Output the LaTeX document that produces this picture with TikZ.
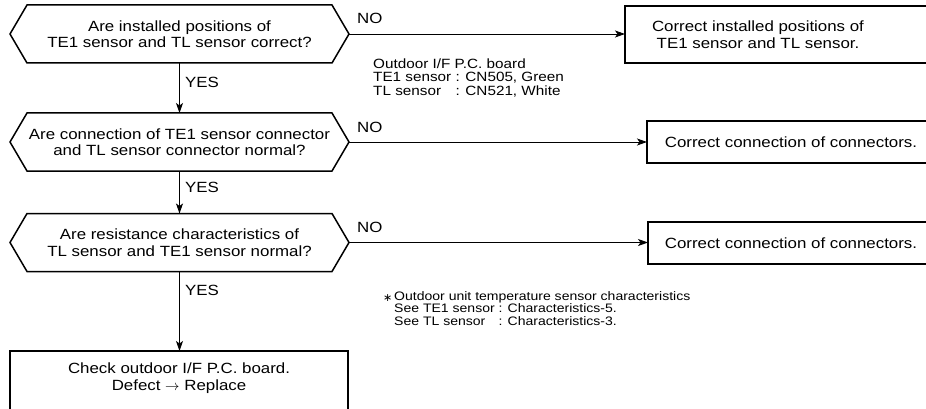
\documentclass[tikz,border=0pt]{standalone}
\usepackage{fontspec}
\setmainfont{Liberation Sans}[FakeStretch=1.14]
\newfontfamily\symf{DejaVu Sans}
\usetikzlibrary{arrows.meta}
\newcommand\hexdraw[1]{\draw[hexline] (#1.west) -- ([xshift=17pt]#1.north west) -- ([xshift=-17pt]#1.north east) -- (#1.east) -- ([xshift=-17pt]#1.south east) -- ([xshift=17pt]#1.south west) -- cycle;}
\begin{document}
\begin{tikzpicture}[x=1pt,y=-1pt,
  mainfont/.style={font=\fontsize{14.8}{16.5}\selectfont},
  hexbox/.style={minimum width=339pt,minimum height=58pt,inner sep=0pt,outer sep=0pt},
  hexline/.style={line width=1.5pt,line join=miter},
  rbox/.style={draw,line width=1.5pt,inner sep=0pt,outer sep=0pt,anchor=north west},
  txt/.style={mainfont,align=center,inner sep=0pt},
  conn/.style={line width=0.9pt,-{Stealth[length=10pt,width=7pt,inset=2.5pt]}},
  lbl/.style={mainfont,inner sep=0pt,anchor=west},
  note/.style={inner sep=0pt,anchor=north west},
]
\useasboundingbox (0,0) rectangle (926,409);
\clip (0,0) rectangle (926,409);

% decision hexagons
\node[hexbox] (h1) at (179.5,34) {};
\node[hexbox] (h2) at (179.5,142) {};
\node[hexbox] (h3) at (179.5,242.5) {};
\hexdraw{h1}
\hexdraw{h2}
\hexdraw{h3}
\node[txt] (h1t) at (h1) {Are installed positions of\\TE1 sensor and TL sensor correct?};
\node[txt] (h2t) at (h2) {Are connection of TE1 sensor connector\\and TL sensor connector normal?};
\node[txt] (h3t) at (h3) {Are resistance characteristics of\\TL sensor and TE1 sensor normal?};

% action boxes
\node[rbox,minimum width=320pt,minimum height=57pt] (b1) at (625,6) {};
\node[rbox,minimum width=300pt,minimum height=42pt] (b2) at (647,121) {};
\node[rbox,minimum width=300pt,minimum height=42pt] (b3) at (648,222) {};
\node[rbox,minimum width=338pt,minimum height=90pt] (b4) at (10,351) {};
\node[txt] (b1t) at (758,34.5) {Correct installed positions of\\TE1 sensor and TL sensor.};
\node[txt] (b2t) at (791,142) {Correct connection of connectors.};
\node[txt] (b3t) at (791,243) {Correct connection of connectors.};
\node[txt] (b4t) at (179,378) {Check outdoor I/F P.C. board.\\Defect $\rightarrow$ Replace};

% connectors
\draw[conn] (h1.south) -- (h2.north);
\draw[conn] (h2.south) -- (h3.north);
\draw[conn] (h3.south) -- (h3.south |- b4.north);
\draw[conn] (h1.east) -- (h1.east -| b1.west);
\draw[conn] (h2.east) -- (h2.east -| b2.west);
\draw[conn] (h3.east) -- (h3.east -| b3.west);

% labels
\node[lbl] (y1) at (185,82) {YES};
\node[lbl] (y2) at (185,187) {YES};
\node[lbl] (y3) at (185,290) {YES};
\node[lbl] (n1) at (357,18) {NO};
\node[lbl] (n2) at (357,127) {NO};
\node[lbl] (n3) at (357,227) {NO};

% notes
\node[note,font=\fontsize{13.4}{12.8}\selectfont] (note1) at (373,58.5) {\begin{tabular}{@{}l@{ }l@{}}
\multicolumn{2}{@{}l@{}}{Outdoor I/F P.C. board}\\
TE1 sensor & : CN505, Green\\
TL sensor & : CN521, White
\end{tabular}};
\node[note,font=\fontsize{12.3}{11.8}\selectfont] (note2) at (383,291) {\begin{tabular}{@{}l@{}l@{ }l@{}}
\makebox[11pt][l]{\raisebox{-1pt}{\symf\fontsize{11}{11}\selectfont ∗}} & \multicolumn{2}{@{}l@{}}{Outdoor unit temperature sensor characteristics}\\
 & See TE1 sensor & : Characteristics-5.\\
 & See TL sensor & : Characteristics-3.
\end{tabular}};
\end{tikzpicture}
\end{document}
